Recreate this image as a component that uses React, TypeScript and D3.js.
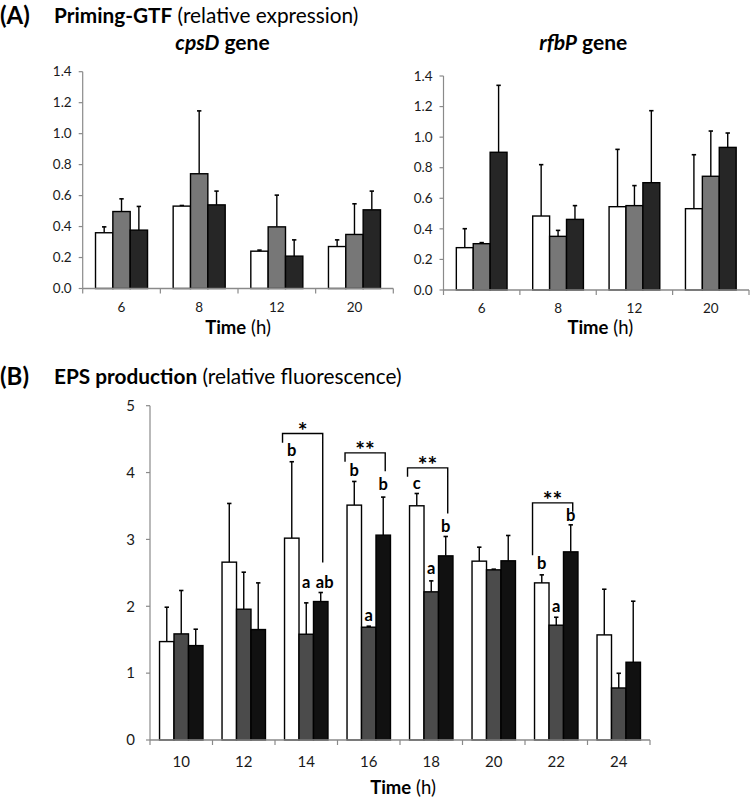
import React from "react";
import * as d3 from "d3";

// ---------- Panel A data ----------
const timesA = ["6", "8", "12", "20"];
const seriesKeys = ["s1", "s2", "s3"];

const cpsDMean1 = [0.36, 0.532, 0.241, 0.271];
const cpsDMean2 = [0.497, 0.741, 0.398, 0.349];
const cpsDMean3 = [0.377, 0.54, 0.209, 0.508];
const cpsDErr1 = [0.038, 0.004, 0.007, 0.043];
const cpsDErr2 = [0.082, 0.406, 0.205, 0.198];
const cpsDErr3 = [0.153, 0.089, 0.105, 0.121];

const rfbPMean1 = [0.277, 0.484, 0.545, 0.532];
const rfbPMean2 = [0.303, 0.351, 0.552, 0.744];
const rfbPMean3 = [0.901, 0.462, 0.702, 0.933];
const rfbPErr1 = [0.124, 0.336, 0.375, 0.353];
const rfbPErr2 = [0.007, 0.039, 0.131, 0.296];
const rfbPErr3 = [0.438, 0.09, 0.471, 0.094];

const ticksA = [0, 0.2, 0.4, 0.6, 0.8, 1.0, 1.2, 1.4];

// ---------- Panel B data ----------
const timesB = ["10", "12", "14", "16", "18", "20", "22", "24"];
const epsMean1 = [1.472, 2.66, 3.019, 3.513, 3.503, 2.675, 2.35, 1.572];
const epsMean2 = [1.587, 1.956, 1.582, 1.687, 2.216, 2.545, 1.717, 0.778];
const epsMean3 = [1.412, 1.652, 2.071, 3.064, 2.754, 2.68, 2.814, 1.163];
const epsErr1 = [0.514, 0.878, 1.143, 0.354, 0.184, 0.209, 0.12, 0.683];
const epsErr2 = [0.649, 0.554, 0.469, 0.015, 0.164, 0.01, 0.119, 0.22];
const epsErr3 = [0.245, 0.698, 0.135, 0.569, 0.29, 0.379, 0.404, 0.913];
const ticksB = [0, 1, 2, 3, 4, 5];

// significance letters (y = baseline value in data units)
const letterTimes = ["14", "14", "14", "16", "16", "16", "18", "18", "18", "22", "22", "22"];
const letterSeries = ["s1", "s2", "s3", "s1", "s2", "s3", "s1", "s2", "s3", "s1", "s2", "s3"];
const letterText = ["b", "a", "ab", "b", "a", "b", "c", "a", "b", "b", "a", "b"];
const letterY = [4.245, 2.276, 2.276, 3.946, 1.783, 3.737, 3.747, 2.481, 3.114, 2.551, 1.918, 3.278];

// brackets
const bracketTimes = ["14", "16", "18", "22"];
const bracketStars = ["*", "**", "**", "**"];
const bracketTop = [4.584, 4.294, 4.07, 3.547];
const bracketLeftEnd = [4.444, 4.16, 3.936, 2.765];
const bracketRightEnd = [2.656, 4.021, 3.389, 3.413];

const FONT = "Lato, 'Open Sans', sans-serif";
const AXIS = "#8a8a8a";

type Row = { t: string; key: string; v: number; e: number };

function rows(times: string[], means: number[][], errs: number[][]): Row[] {
  const out: Row[] = [];
  times.forEach((t, i) => {
    seriesKeys.forEach((k, j) => out.push({ t, key: k, v: means[j][i], e: errs[j][i] }));
  });
  return out;
}

function BarPanel(props: {
  times: string[];
  data: Row[];
  xr: [number, number];
  yr: [number, number];
  ymax: number;
  ticks: number[];
  fmt: (n: number) => string;
  group: number;
  colors: Record<string, string>;
  tickFont: number;
  tickLabelGap: number;
  xLabelDy: number;
  children?: (x0: any, x1: any, y: any) => React.ReactNode;
}) {
  const { times, data, xr, yr, ymax, ticks, fmt, group, colors, tickFont } = props;
  const x0 = d3.scaleBand<string>().domain(times).range(xr).padding(0);
  const bw0 = x0.bandwidth();
  const x1 = d3
    .scaleBand<string>()
    .domain(seriesKeys)
    .range([(bw0 * (1 - group)) / 2, (bw0 * (1 + group)) / 2])
    .padding(0);
  const y = d3.scaleLinear().domain([0, ymax]).range(yr);
  const bw = x1.bandwidth();
  const boundaries = [...times.map((t) => x0(t)!), xr[1]];
  return (
    <g>
      {/* y axis */}
      <line x1={xr[0]} x2={xr[0]} y1={y(0)} y2={y(ymax)} stroke={AXIS} strokeWidth={1.2} />
      {ticks.map((tk) => (
        <g key={"yt" + tk}>
          <line x1={xr[0] - 4} x2={xr[0]} y1={y(tk)} y2={y(tk)} stroke={AXIS} strokeWidth={1.2} />
          <text
            x={xr[0] - props.tickLabelGap}
            y={y(tk)}
            dy="0.35em"
            textAnchor="end"
            fontFamily={FONT}
            fontSize={tickFont}
            fill="#1a1a1a"
          >
            {fmt(tk)}
          </text>
        </g>
      ))}
      {/* bars */}
      {data.map((d, i) => {
        const bx = x0(d.t)! + x1(d.key)!;
        const cx = bx + bw / 2;
        return (
          <g key={"b" + i}>
            <line x1={cx} x2={cx} y1={y(d.v)} y2={y(d.v + d.e)} stroke="#000" strokeWidth={1.4} />
            <line x1={cx - 2.2} x2={cx + 2.2} y1={y(d.v + d.e)} y2={y(d.v + d.e)} stroke="#000" strokeWidth={1.6} />
            <rect x={bx} y={y(d.v)} width={bw} height={y(0) - y(d.v)} fill={colors[d.key]} stroke="#000" strokeWidth={1.4} />
          </g>
        );
      })}
      {/* x axis */}
      <line x1={xr[0]} x2={xr[1]} y1={y(0)} y2={y(0)} stroke={AXIS} strokeWidth={1.4} />
      {boundaries.map((bx, i) => (
        <line key={"xt" + i} x1={bx} x2={bx} y1={y(0)} y2={y(0) + 5} stroke={AXIS} strokeWidth={1.2} />
      ))}
      {times.map((t) => (
        <text
          key={"xl" + t}
          x={x0(t)! + bw0 / 2}
          y={y(0) + props.xLabelDy}
          textAnchor="middle"
          fontFamily={FONT}
          fontSize={tickFont}
          fill="#1a1a1a"
        >
          {t}
        </text>
      ))}
      {props.children ? props.children(x0, x1, y) : null}
    </g>
  );
}

export default function App() {
  const colorsA = { s1: "#ffffff", s2: "#777777", s3: "#262626" };
  const colorsB = { s1: "#ffffff", s2: "#4b4b4b", s3: "#111111" };
  const cpsD = rows(timesA, [cpsDMean1, cpsDMean2, cpsDMean3], [cpsDErr1, cpsDErr2, cpsDErr3]);
  const rfbP = rows(timesA, [rfbPMean1, rfbPMean2, rfbPMean3], [rfbPErr1, rfbPErr2, rfbPErr3]);
  const eps = rows(timesB, [epsMean1, epsMean2, epsMean3], [epsErr1, epsErr2, epsErr3]);
  const f1 = d3.format(".1f");
  const f0 = d3.format("d");

  const leftXR: [number, number] = [82.7, 393.3];
  const rightXR: [number, number] = [443.5, 749];
  const bXR: [number, number] = [150, 650];

  return (
    <svg
      width={750}
      height={798}
      style={{ position: "absolute", left: 0, top: 0, background: "#fff" }}
      fontFamily={FONT}
    >
      <rect x={0} y={0} width={750} height={798} fill="#fff" />
      {/* Panel A titles */}
      <text x={0} y={24} fontSize={24} fontWeight="bold" fill="#000">(A)</text>
      <text x={54} y={23} fontSize={20.8} fill="#000">
        <tspan fontWeight="bold">Priming-GTF</tspan>
        <tspan> (relative expression)</tspan>
      </text>
      <text x={(leftXR[0] + leftXR[1]) / 2 - 15.5} y={50} fontSize={21} textAnchor="middle" fontWeight="bold" fill="#000">
        <tspan fontStyle="italic">cpsD</tspan>
        <tspan> gene</tspan>
      </text>
      <text x={(rightXR[0] + rightXR[1]) / 2 - 13} y={50} fontSize={21} textAnchor="middle" fontWeight="bold" fill="#000">
        <tspan fontStyle="italic">rfbP</tspan>
        <tspan> gene</tspan>
      </text>

      <BarPanel
        times={timesA}
        data={cpsD}
        xr={leftXR}
        yr={[288.5, 71.7]}
        ymax={1.4}
        ticks={ticksA}
        fmt={f1}
        group={0.67}
        colors={colorsA}
        tickFont={13.5}
        tickLabelGap={11}
        xLabelDy={23}
      />
      <BarPanel
        times={timesA}
        data={rfbP}
        xr={rightXR}
        yr={[290, 76]}
        ymax={1.4}
        ticks={ticksA}
        fmt={f1}
        group={0.664}
        colors={colorsA}
        tickFont={13.5}
        tickLabelGap={11}
        xLabelDy={23}
      />
      <text x={(leftXR[0] + leftXR[1]) / 2} y={334} fontSize={18.5} textAnchor="middle" fill="#000">
        <tspan fontWeight="bold">Time</tspan>
        <tspan> (h)</tspan>
      </text>
      <text x={(rightXR[0] + rightXR[1]) / 2 + 4} y={334} fontSize={18.5} textAnchor="middle" fill="#000">
        <tspan fontWeight="bold">Time</tspan>
        <tspan> (h)</tspan>
      </text>

      {/* Panel B titles */}
      <text x={0} y={385} fontSize={24} fontWeight="bold" fill="#000">(B)</text>
      <text x={54} y={384} fontSize={20.8} fill="#000">
        <tspan fontWeight="bold">EPS production</tspan>
        <tspan> (relative fluorescence)</tspan>
      </text>

      <BarPanel
        times={timesB}
        data={eps}
        xr={bXR}
        yr={[740, 405.7]}
        ymax={5}
        ticks={ticksB}
        fmt={f0}
        group={0.695}
        colors={colorsB}
        tickFont={15}
        tickLabelGap={15}
        xLabelDy={27}
      >
        {(x0: any, x1: any, y: any) => {
          const bw = x1.bandwidth();
          return (
            <g>
              {letterText.map((txt, i) => (
                <text
                  key={"lt" + i}
                  x={x0(letterTimes[i]) + x1(letterSeries[i]) + bw / 2 + (txt.length - 1) * 4}
                  y={y(letterY[i])}
                  textAnchor="middle"
                  fontSize={16.5}
                  fontWeight="bold"
                  fill="#000"
                >
                  {txt}
                </text>
              ))}
              {bracketTimes.map((t, i) => {
                const lx = x0(t) + x1("s1") - 2;
                const rx = x0(t) + x1("s3") + bw / 2 + 2;
                const top = y(bracketTop[i]);
                return (
                  <g key={"br" + i}>
                    <path
                      d={`M${lx},${y(bracketLeftEnd[i])}L${lx},${top}L${rx},${top}L${rx},${y(bracketRightEnd[i])}`}
                      fill="none"
                      stroke="#000"
                      strokeWidth={1.4}
                    />
                    <text x={(lx + rx) / 2} y={top + 5} textAnchor="middle" fontSize={23} fontWeight="bold" fill="#000">
                      {bracketStars[i]}
                    </text>
                  </g>
                );
              })}
            </g>
          );
        }}
      </BarPanel>
      <text x={(bXR[0] + bXR[1]) / 2 + 3} y={794} fontSize={18.5} textAnchor="middle" fill="#000">
        <tspan fontWeight="bold">Time</tspan>
        <tspan> (h)</tspan>
      </text>
    </svg>
  );
}
